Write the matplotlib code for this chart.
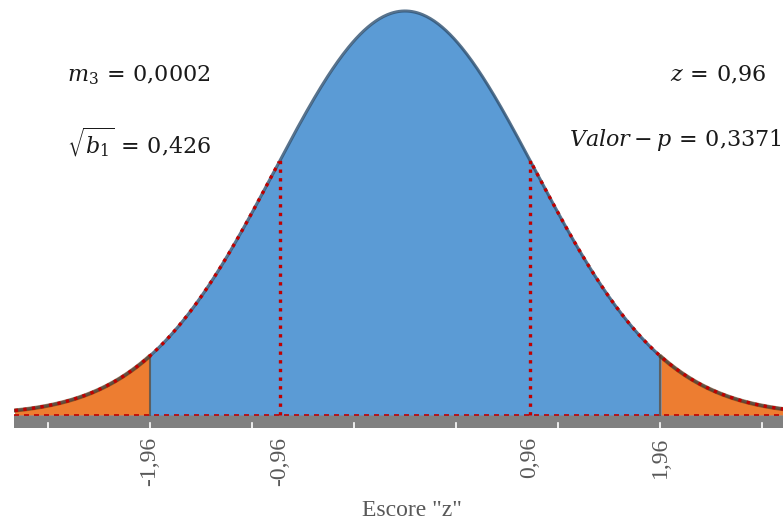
import numpy as np
import matplotlib.pyplot as plt

# standard normal curve, shaded tails beyond the critical value
media = 0.0
desvio = 1.0
z_critico = [-1.96, 1.96]
z_obs = [-0.96, 0.96]
rotulos = ["-1,96", "-0,96", "0,96", "1,96"]
pos_rotulos = [-1.96, -0.96, 0.96, 1.96]
marcas = [-2.744, -1.96, -1.176, -0.392, 0.392, 1.176, 1.96, 2.744]

txt_esq = [r"$m_3\,=\,0{,}0002$", r"$\sqrt{b_1}\,=\,0{,}426$"]
txt_dir = [r"$z\,=\,0{,}96$", r"$Valor - p\,=\,0{,}3371$"]

plt.rcParams['mathtext.fontset'] = 'dejavuserif'

W, H = 783, 524
fig = plt.figure(figsize=(W / 100, H / 100), dpi=100)

# axes placed in pixels: x 14..783, y 5..428 (baseline at 415)
x0, x1, y0, y1 = 14, 783, 5, 428
ax = fig.add_axes([x0 / W, (H - y1) / H, (x1 - x0) / W, (y1 - y0) / H])
px_un = 130.1
cx = 405
pico = 1 / (desvio * np.sqrt(2 * np.pi))
py_un = 404 / pico
ax.set_xlim((x0 - cx) / px_un, (x1 - cx) / px_un)
ax.set_ylim((415 - y1) / py_un, (415 - y0) / py_un)
ax.axis('off')

x = np.linspace(-3, 3, 600)
y = np.exp(-0.5 * ((x - media) / desvio) ** 2) / (desvio * np.sqrt(2 * np.pi))

azul = '#5B9BD5'
laranja = '#ED7D31'
ax.fill_between(x, 0, y, color=azul, lw=0, zorder=1)
esq = x <= z_critico[0]
dir_ = x >= z_critico[1]
ax.fill_between(x[esq], 0, y[esq], color=laranja, lw=0, zorder=2)
ax.fill_between(x[dir_], 0, y[dir_], color=laranja, lw=0, zorder=2)
# darker edge to imitate the shadow
ax.plot(x, y, color='#2F5070', lw=2.2, alpha=0.8, zorder=3)
ax.plot(x[esq], y[esq], color='#6b3a12', lw=3, alpha=0.6, zorder=3)
ax.plot(x[dir_], y[dir_], color='#6b3a12', lw=3, alpha=0.6, zorder=3)
for zc in z_critico:
    ax.plot([zc, zc], [0, np.interp(zc, x, y)], color='#5a3a1a', lw=1.5, alpha=0.6, zorder=3)

# red dotted outline, only outside the observed z
pont = (0, (1, 1.6))
fora_e = x <= z_obs[0]
fora_d = x >= z_obs[1]
ax.plot(x[fora_e], y[fora_e], color='#C00000', lw=2.4, ls=pont, zorder=4)
ax.plot(x[fora_d][::-1], y[fora_d][::-1], color='#C00000', lw=2.4, ls=pont, zorder=4)
ax.axhline(0, color='#C00000', lw=1.2, ls=(0, (3, 3)), zorder=4)
for zo in z_obs:
    ax.plot([zo, zo], [0, np.interp(zo, x, y)], color='#C00000', lw=2.4, ls=pont, zorder=4)

# gray axis bar with white ticks
ymin = ax.get_ylim()[0]
ax.axhspan(ymin, 0, color='#808080', lw=0, zorder=0)
for m in marcas:
    ax.plot([m, m], [ymin, ymin * 0.6], color='white', lw=1.2, zorder=5)

for p, r in zip(pos_rotulos, rotulos):
    ax.text(p, ymin - 9 / py_un, r, rotation=90, ha='center', va='top', fontsize=17,
            family='Liberation Serif', color='#595959')

fig.text(412 / W, 1 - 511 / H, 'Escore "z"', ha='center', va='center',
         fontsize=17, family='Liberation Serif', color='#595959')

fig.text(139 / W, 1 - 75 / H, txt_esq[0], ha='center', va='center', fontsize=16, color='#1a1a1a')
fig.text(139 / W, 1 - 142 / H, txt_esq[1], ha='center', va='center', fontsize=16, color='#1a1a1a')
fig.text(718 / W, 1 - 75 / H, txt_dir[0], ha='center', va='center', fontsize=16, color='#1a1a1a')
fig.text(782 / W, 1 - 140 / H, txt_dir[1], ha='right', va='center', fontsize=16, color='#1a1a1a')

fig.savefig('out.png', dpi=100)
